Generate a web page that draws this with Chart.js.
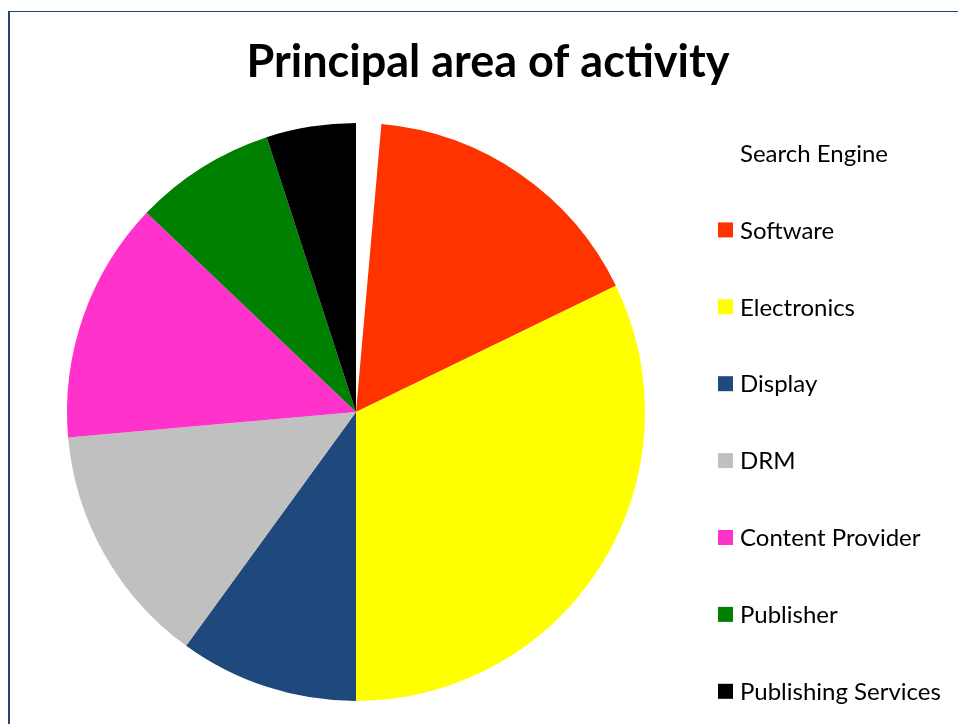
<!DOCTYPE html>
<html>
<head>
<meta charset="utf-8">
<script src="https://cdn.jsdelivr.net/npm/chart.js@4/dist/chart.umd.min.js"></script>
<style>
  html, body { margin: 0; padding: 0; background: #ffffff; overflow: hidden; }
  #frame { position: absolute; left: 8px; top: 11px; width: 1200px; height: 1000px;
           border-left: 2px solid #23467a; border-top: 1px solid #23467a; box-sizing: border-box; }
  #c { position: absolute; left: 0; top: 0; }
</style>
</head>
<body>
<div id="frame"></div>
<canvas id="c" width="958" height="724"></canvas>
<script>
// ---- data ----
const chartTitle = "Principal area of activity";
const categories = ["Search Engine", "Software", "Electronics", "Display", "DRM",
                    "Content Provider", "Publisher", "Publishing Services"];
const shares = [1.4, 16.4, 32.2, 10.0, 13.6, 13.5, 7.9, 5.0];
const sliceColors = ["#FFFFFF", "#FF3300", "#FFFF00", "#1F497D", "#C0C0C0",
                     "#FF33CC", "#008000", "#000000"];

// custom title + legend drawn on the canvas
const sideText = {
  id: "sideText",
  afterDraw(chart, args, opts) {
    const ctx = chart.ctx;
    ctx.save();
    ctx.fillStyle = "#000000";
    ctx.textAlign = "center";
    ctx.textBaseline = "middle";
    ctx.font = opts.titleFont;
    ctx.fillText(chartTitle, opts.titleX, opts.titleY);

    ctx.font = opts.legendFont;
    ctx.textAlign = "left";
    const labels = chart.data.labels;
    const colors = chart.data.datasets[0].backgroundColor;
    labels.forEach((lab, i) => {
      const y = opts.legendTop + i * opts.legendStep;
      ctx.fillStyle = colors[i];
      ctx.fillRect(opts.boxX, y - opts.boxSize / 2, opts.boxSize, opts.boxSize);
      ctx.fillStyle = "#000000";
      ctx.fillText(lab, opts.textX, y + 1);
    });
    ctx.restore();
  }
};

new Chart(document.getElementById("c"), {
  type: "pie",
  data: {
    labels: categories,
    datasets: [{ data: shares, backgroundColor: sliceColors, borderWidth: 0 }]
  },
  options: {
    responsive: false,
    animation: false,
    layout: { padding: { left: 67, right: 313, top: 123, bottom: 23 } },
    plugins: {
      legend: { display: false },
      title: { display: false },
      tooltip: { enabled: false },
      sideText: {
        titleFont: "bold 45px Lato",
        titleX: 488, titleY: 62,
        legendFont: "24px Lato",
        legendTop: 153, legendStep: 76.9,
        boxX: 718, boxSize: 15, textX: 740
      }
    }
  },
  plugins: [sideText]
});
</script>
</body>
</html>
